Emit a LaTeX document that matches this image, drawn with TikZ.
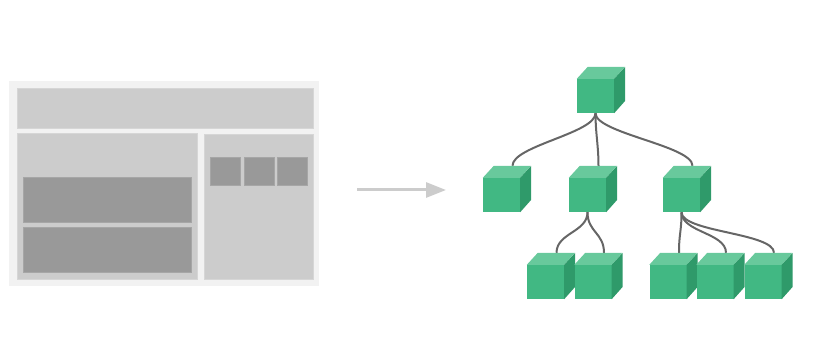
\documentclass[tikz,border=0pt]{standalone}
\usetikzlibrary{arrows.meta,calc,backgrounds}

\definecolor{panelbg}{HTML}{F2F2F2}
\definecolor{panelgray}{HTML}{CCCCCC}
\definecolor{paneledge}{HTML}{D6D6D6}
\definecolor{blockgray}{HTML}{999999}
\definecolor{blockedge}{HTML}{A6A6A6}
\definecolor{cubefront}{HTML}{41B883}
\definecolor{cubetop}{HTML}{68C99C}
\definecolor{cubeside}{HTML}{2F9A6A}
\definecolor{linkgray}{HTML}{666666}

\tikzset{
  cube/.style={rectangle, minimum width=37pt, minimum height=34pt, inner sep=0pt, fill=cubefront},
  pane/.style={fill=panelgray, draw=paneledge, line width=0.8pt},
  block/.style={fill=blockgray, draw=blockedge, line width=0.8pt},
  link/.style={draw=linkgray, line width=2pt},
  wire/.style={out=-90, in=90, distance=20pt},
  pointer/.style={draw=panelgray, line width=3pt, -{Triangle[length=20pt,width=15pt]}}
}

% one green cube: front node, top and side faces
\newcommand{\vuecube}[2]{%
  \node[cube] (#1) at (#2) {};
  \fill[cubetop] (#1.north west) -- ++(11,12) -- ++(37,0) -- (#1.north east) -- cycle;
  \fill[cubeside] (#1.north east) -- ++(11,12) -- ++(0,-34) -- (#1.south east) -- cycle;
  \coordinate (#1-top) at ($(#1.north)+(11,12)$);
}

\begin{document}
\begin{tikzpicture}[x=1pt, y=1pt]
  \useasboundingbox (0,0) rectangle (822,345);

  % page layout
  \fill[panelbg] (9,59) rectangle (319,264);
  \draw[pane] (17,217) rectangle (313,257);
  \draw[pane] (17,66) rectangle (197,212);
  \draw[pane] (204,66) rectangle (313,211);
  \draw[block] (23,123) rectangle (191,168);
  \draw[block] (23,73) rectangle (191,118);
  \foreach \sx in {210,244,277}
    \draw[block] (\sx,160) rectangle ++(30,28);

  % arrow
  \coordinate (arrow-start) at (357,155);
  \coordinate (arrow-end) at (446,155);
  \draw[pointer] (arrow-start) -- (arrow-end);

  % component tree
  \vuecube{root}{595.5,249}
  \vuecube{a}{501.5,150}
  \vuecube{b}{587.5,150}
  \vuecube{c}{681.5,150}
  \vuecube{b1}{545.5,63}
  \vuecube{b2}{593,63}
  \vuecube{c1}{668,63}
  \vuecube{c2}{715,63}
  \vuecube{c3}{763,63}

  \begin{scope}[on background layer]
    \path[link]
      (root.south) edge[wire] (a-top) edge[wire] (b-top) edge[wire] (c-top)
      (b.south) edge[wire] (b1-top) edge[wire] (b2-top)
      (c.south) edge[wire] (c1-top) edge[wire] (c2-top) edge[wire] (c3-top);
  \end{scope}
\end{tikzpicture}
\end{document}
